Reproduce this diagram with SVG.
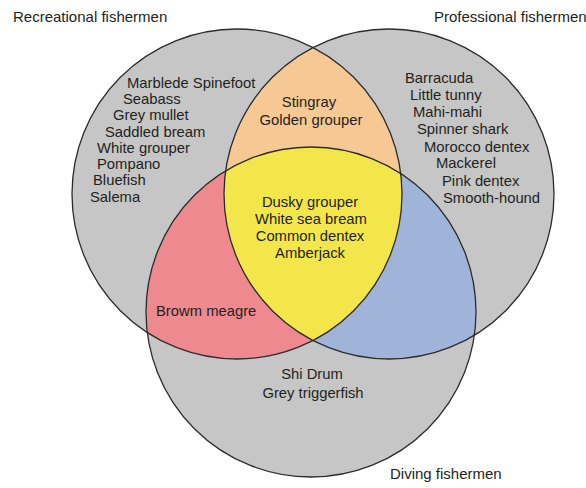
<svg xmlns="http://www.w3.org/2000/svg" width="586" height="488" viewBox="0 0 586 488">
<style>
text{font-family:"Liberation Sans",Arial,sans-serif;font-size:14.8px;fill:#231f20}
.t{font-size:15px}
.c{text-anchor:middle}
.o{fill:none;stroke:#2b2b2b;stroke-width:1.3}
</style>
<defs>
<clipPath id="cL"><circle cx="237" cy="194" r="165"/></clipPath>
<clipPath id="cR"><circle cx="389" cy="194" r="165"/></clipPath>
</defs>
<rect width="586" height="488" fill="#fff"/>
<g id="fills">
<circle cx="237" cy="194" r="165" fill="#c6c6c6"/>
<circle cx="389" cy="194" r="165" fill="#c6c6c6"/>
<circle cx="311" cy="312" r="165" fill="#c6c6c6"/>
<circle cx="389" cy="194" r="165" fill="#f6c994" clip-path="url(#cL)"/>
<circle cx="311" cy="312" r="165" fill="#ef8990" clip-path="url(#cL)"/>
<circle cx="311" cy="312" r="165" fill="#9fb4d8" clip-path="url(#cR)"/>
<g clip-path="url(#cL)"><circle cx="311" cy="312" r="165" fill="#f3e64b" clip-path="url(#cR)"/></g>
</g>
<g id="recreational">
<circle class="o" cx="237" cy="194" r="165"/>
<text class="t" x="13" y="22">Recreational fishermen</text>
<text x="127" y="88">Marblede Spinefoot</text>
<text x="123" y="104">Seabass</text>
<text x="113" y="120">Grey mullet</text>
<text x="105" y="137">Saddled bream</text>
<text x="97" y="153">White grouper</text>
<text x="97" y="169">Pompano</text>
<text x="93" y="185">Bluefish</text>
<text x="90" y="202">Salema</text>
</g>
<g id="professional">
<circle class="o" cx="389" cy="194" r="165"/>
<text class="t" x="434" y="22">Professional fishermen</text>
<text x="405" y="83">Barracuda</text>
<text x="410" y="100">Little tunny</text>
<text x="413" y="117">Mahi-mahi</text>
<text x="417" y="134">Spinner shark</text>
<text x="424" y="152">Morocco dentex</text>
<text x="436" y="168">Mackerel</text>
<text x="442" y="186">Pink dentex</text>
<text x="443" y="203">Smooth-hound</text>
</g>
<g id="diving">
<circle class="o" cx="311" cy="312" r="165"/>
<text class="t" x="390" y="479">Diving fishermen</text>
<text class="c" x="312" y="379">Shi Drum</text>
<text class="c" x="313" y="398">Grey triggerfish</text>
</g>
<g id="rec-pro">
<text class="c" x="309" y="107">Stingray</text>
<text class="c" x="311" y="125">Golden grouper</text>
</g>
<g id="rec-div">
<text x="156" y="316">Browm meagre</text>
</g>
<g id="all">
<text class="c" x="310" y="207">Dusky grouper</text>
<text class="c" x="311" y="224">White sea bream</text>
<text class="c" x="310" y="241">Common dentex</text>
<text class="c" x="310" y="258">Amberjack</text>
</g>
<g id="connectors"></g>
</svg>
